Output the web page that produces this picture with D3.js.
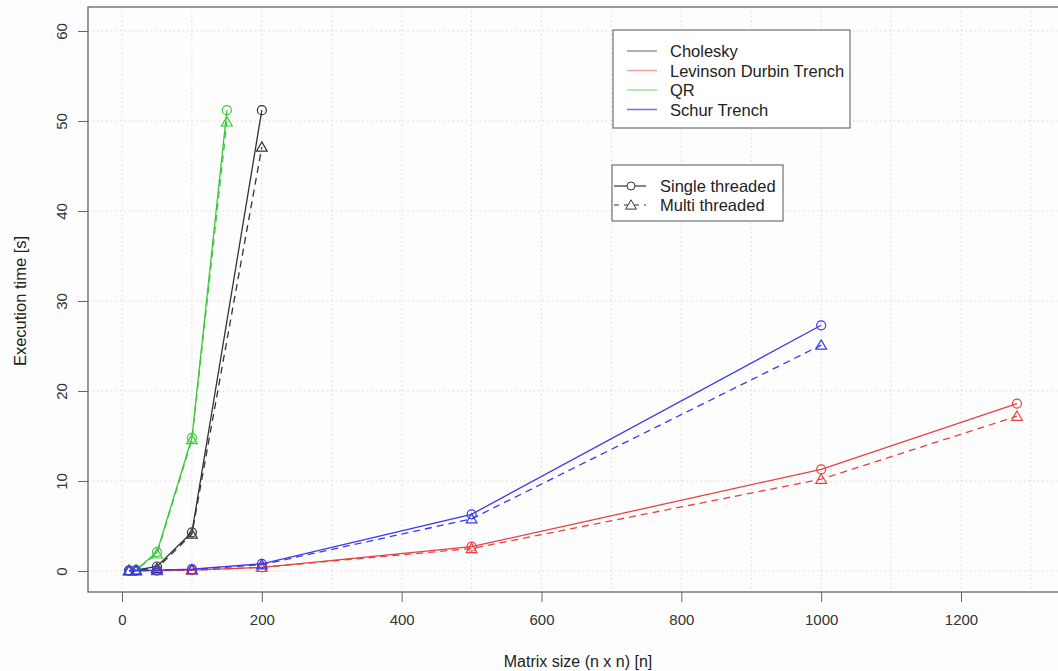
<!DOCTYPE html>
<html><head><meta charset="utf-8">
<script src="https://cdn.jsdelivr.net/npm/d3@7"></script>
<style>body{margin:0;background:#fdfdfd;} svg{display:block;font-family:"Liberation Sans",Arial,sans-serif;}</style>
</head><body><svg id="c" width="1058" height="671"></svg>
<script>
const seriesNames = ["Cholesky","Levinson Durbin Trench","QR","Schur Trench"];
const seriesColors = ["#333333","#e84040","#3cc83c","#3a3ae8"];
const legendColors = ["#999999","#f0a0a0","#a0dca0","#7070e8"];
const xCholesky = [10,20,50,100,200];
const singleCholesky = [0.05,0.1,0.5,4.3,51.2];
const multiCholesky = [0.05,0.1,0.3,4.1,47.1];
const xLevinson = [10,20,50,100,200,500,1000,1280];
const singleLevinson = [0.02,0.03,0.05,0.1,0.4,2.7,11.3,18.6];
const multiLevinson = [0.02,0.03,0.05,0.1,0.4,2.5,10.2,17.2];
const xQR = [10,20,50,100,150];
const singleQR = [0.05,0.1,2.1,14.8,51.2];
const multiQR = [0.05,0.1,1.9,14.6,49.9];
const xSchur = [10,20,50,100,200,500,1000];
const singleSchur = [0.05,0.05,0.1,0.2,0.8,6.3,27.3];
const multiSchur = [0.05,0.05,0.1,0.15,0.7,5.8,25.1];
const xTicks = [0,200,400,600,800,1000,1200];
const yTicks = [0,10,20,30,40,50,60];
const xGrid = d3.range(0,1400,100);

const data = [
 {x:xCholesky, s:singleCholesky, m:multiCholesky},
 {x:xLevinson, s:singleLevinson, m:multiLevinson},
 {x:xQR, s:singleQR, m:multiQR},
 {x:xSchur, s:singleSchur, m:multiSchur}
];

const svg = d3.select("#c");
const x = d3.scaleLinear().domain([0,1200]).range([122,961]);
const y = d3.scaleLinear().domain([0,60]).range([571,31]);
const box = {l:88, t:7, r:1070, b:592};

// grid
svg.append("g").selectAll("line").data(yTicks).join("line")
  .attr("x1",box.l).attr("x2",box.r).attr("y1",d=>y(d)).attr("y2",d=>y(d))
  .attr("stroke","#d8d8d8").attr("stroke-dasharray","1.5,3");
svg.append("g").selectAll("line").data(xGrid).join("line")
  .attr("x1",d=>x(d)).attr("x2",d=>x(d)).attr("y1",box.t).attr("y2",box.b)
  .attr("stroke","#d8d8d8").attr("stroke-dasharray","1.5,3");

// box
svg.append("rect").attr("x",box.l).attr("y",box.t).attr("width",box.r-box.l).attr("height",box.b-box.t)
  .attr("fill","none").attr("stroke","#666").attr("stroke-width",1.3);

// axes
const xa = svg.append("g").attr("transform",`translate(0,${box.b})`)
  .call(d3.axisBottom(x).tickValues(xTicks).tickSize(10).tickPadding(12).tickFormat(d3.format("d")));
xa.select(".domain").remove();
const ya = svg.append("g").attr("transform",`translate(${box.l},0)`)
  .call(d3.axisLeft(y).tickValues(yTicks).tickSize(10).tickPadding(4));
ya.select(".domain").remove();
[xa,ya].forEach(a=>{a.selectAll("line").attr("stroke","#666");a.selectAll("text").attr("font-size",15).attr("fill","#333").attr("font-family","Liberation Sans, Arial, sans-serif");});
ya.selectAll("text").attr("x",0).attr("y",0).attr("dy",0).attr("text-anchor","middle")
  .attr("transform","translate(-21,0) rotate(-90)");

svg.append("text").attr("x",578).attr("y",667).attr("text-anchor","middle").attr("font-size",16).attr("fill","#222")
  .text("Matrix size (n x n) [n]");
svg.append("text").attr("transform","translate(26,301) rotate(-90)").attr("text-anchor","middle").attr("font-size",16.5).attr("fill","#222")
  .text("Execution time [s]");

// series
const line = d3.line().x(d=>x(d[0])).y(d=>y(d[1]));
const tri = d3.symbol().type(d3.symbolTriangle).size(50);
data.forEach((d,i)=>{
  const g = svg.append("g");
  const sp = d.x.map((v,j)=>[v,d.s[j]]);
  const mp = d.x.map((v,j)=>[v,d.m[j]]);
  g.append("path").attr("d",line(sp)).attr("fill","none").attr("stroke",seriesColors[i]).attr("stroke-width",1.3);
  g.append("path").attr("d",line(mp)).attr("fill","none").attr("stroke",seriesColors[i]).attr("stroke-width",1.3).attr("stroke-dasharray","7,5");
  g.selectAll("circle").data(sp).join("circle").attr("cx",p=>x(p[0])).attr("cy",p=>y(p[1])).attr("r",4.5)
    .attr("fill","none").attr("stroke",seriesColors[i]).attr("stroke-width",1.2);
  g.selectAll(".t").data(mp).join("path").attr("class","t").attr("d",tri)
    .attr("transform",p=>`translate(${x(p[0])},${y(p[1])+1})`)
    .attr("fill","none").attr("stroke",seriesColors[i]).attr("stroke-width",1.2);
});

// legend 1
const l1 = svg.append("g");
l1.append("rect").attr("x",613).attr("y",30).attr("width",237).attr("height",98).attr("fill","#fff").attr("stroke","#555");
seriesNames.forEach((n,i)=>{
  const yy = 51 + i*19.5;
  l1.append("line").attr("x1",627).attr("x2",657).attr("y1",yy).attr("y2",yy).attr("stroke",legendColors[i]).attr("stroke-width",1.5);
  l1.append("text").attr("x",670).attr("y",yy+6).attr("font-size",16.5).attr("fill","#222").text(n);
});
// legend 2
const l2 = svg.append("g");
l2.append("rect").attr("x",612).attr("y",165).attr("width",171).attr("height",56).attr("fill","#fff").attr("stroke","#555");
const ltypes = ["Single threaded","Multi threaded"];
ltypes.forEach((n,i)=>{
  const yy = 186 + i*19;
  l2.append("line").attr("x1",614).attr("x2",646).attr("y1",yy).attr("y2",yy).attr("stroke","#333").attr("stroke-width",1.2)
    .attr("stroke-dasharray",i?"5,5":null);
  if(i===0) l2.append("circle").attr("cx",631).attr("cy",yy).attr("r",4).attr("fill","#fff").attr("stroke","#333");
  else l2.append("path").attr("d",tri).attr("transform",`translate(631,${yy+1})`).attr("fill","#fff").attr("stroke","#333");
  l2.append("text").attr("x",660).attr("y",yy+6).attr("font-size",16.5).attr("fill","#222").text(n);
});
</script></body></html>
